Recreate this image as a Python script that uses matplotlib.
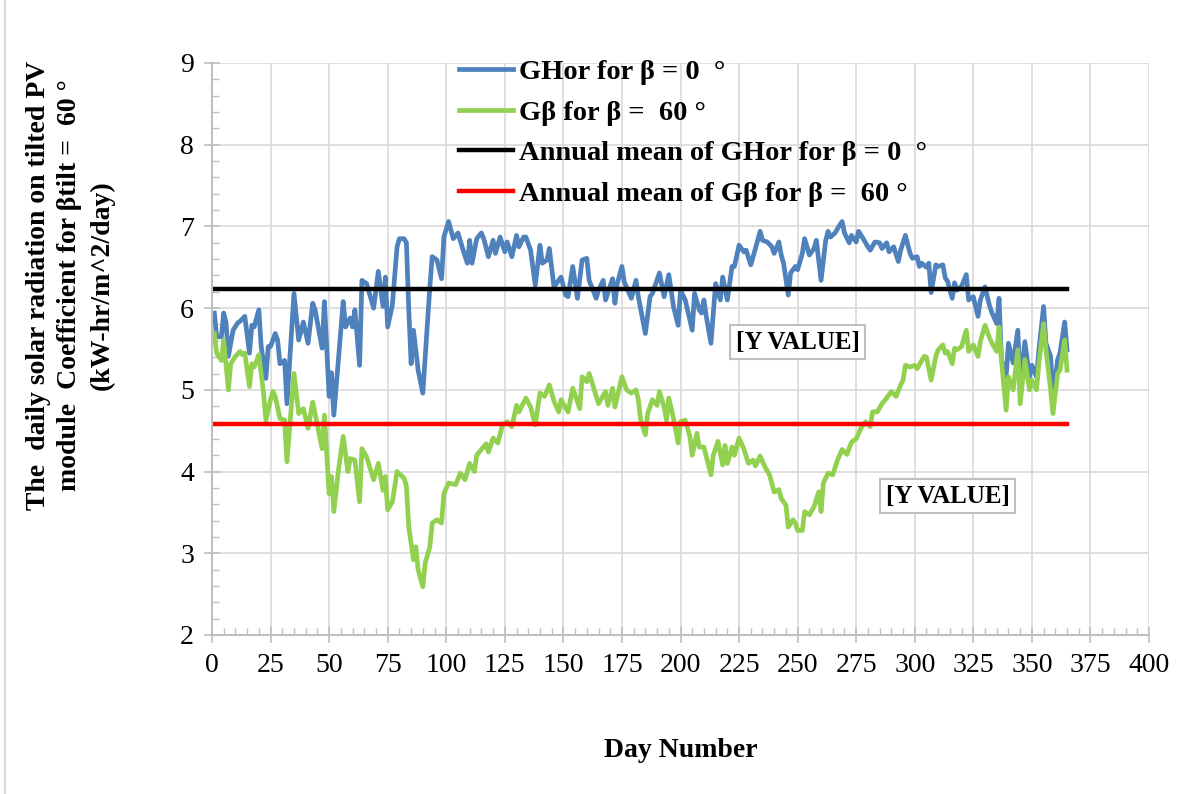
import numpy as np
import matplotlib
matplotlib.use("Agg")
import matplotlib.pyplot as plt
from matplotlib.ticker import MultipleLocator

# values
days_hor = [1, 2, 4, 5, 6, 7, 9, 11, 12, 14, 16, 17, 18, 20, 21, 23, 24, 25, 27, 28,
            29, 31, 32, 35, 37, 39, 41, 43, 44, 47, 48, 50, 51, 52, 56, 57, 59, 60, 61, 63,
            64, 66, 69, 71, 73, 74, 75, 77, 79, 80, 82, 83, 84, 85, 86, 88, 90, 93, 94, 96,
            98, 99, 101, 103, 105, 107, 109, 110, 111, 113, 115, 116, 118, 120, 121, 123, 125, 126, 128, 130,
            131, 133, 134, 136, 138, 140, 141, 143, 144, 146, 149, 151, 152, 154, 156, 158, 160, 161, 164, 165,
            167, 168, 171, 172, 173, 175, 176, 179, 181, 182, 185, 187, 188, 191, 193, 195, 197, 199, 200, 202,
            203, 205, 206, 208, 209, 210, 211, 213, 215, 217, 218, 220, 222, 223, 225, 227, 228, 230, 232, 234,
            235, 237, 239, 240, 242, 243, 244, 246, 247, 249, 250, 252, 253, 255, 257, 258, 260, 262, 263, 264,
            266, 268, 269, 270, 272, 273, 275, 276, 278, 280, 281, 283, 285, 286, 288, 289, 291, 293, 294, 296,
            298, 299, 301, 302, 303, 305, 306, 307, 309, 310, 312, 313, 314, 316, 317, 318, 320, 322, 323, 325,
            327, 328, 330, 332, 333, 335, 336, 337, 339, 340, 342, 344, 345, 347, 349, 350, 352, 353, 355, 356,
            358, 359, 361, 362, 364, 365]
g_hor = [5.94, 5.65, 5.65, 5.94, 5.82, 5.41, 5.73, 5.82, 5.84, 5.90, 5.45, 5.79, 5.77, 5.98, 5.53, 5.14, 5.53, 5.53, 5.69, 5.61,
         5.32, 5.36, 4.83, 6.18, 5.61, 5.83, 5.57, 6.06, 5.98, 5.51, 6.08, 4.92, 5.21, 4.69, 6.08, 5.77, 5.88, 5.77, 5.98, 5.30,
         6.34, 6.30, 6.00, 6.45, 6.02, 6.38, 5.77, 6.04, 6.75, 6.85, 6.85, 6.80, 5.98, 5.32, 5.73, 5.24, 4.96, 6.26, 6.63, 6.59,
         6.36, 6.87, 7.06, 6.85, 6.92, 6.73, 6.55, 6.83, 6.55, 6.85, 6.92, 6.85, 6.63, 6.83, 6.67, 6.87, 6.69, 6.81, 6.63, 6.89,
         6.75, 6.87, 6.87, 6.71, 6.28, 6.77, 6.55, 6.59, 6.73, 6.26, 6.38, 6.16, 6.14, 6.51, 6.12, 6.59, 6.61, 6.34, 6.12, 6.22,
         6.34, 6.10, 6.36, 6.06, 6.30, 6.51, 6.32, 6.12, 6.34, 6.14, 5.69, 6.14, 6.18, 6.43, 6.14, 6.41, 6.02, 5.79, 6.22, 6.10,
         5.98, 5.73, 6.18, 5.98, 5.94, 6.10, 5.90, 5.57, 6.30, 6.10, 6.38, 6.10, 6.51, 6.51, 6.77, 6.69, 6.71, 6.53, 6.73, 6.94,
         6.83, 6.81, 6.75, 6.67, 6.81, 6.65, 6.55, 6.16, 6.43, 6.51, 6.47, 6.67, 6.85, 6.65, 6.73, 6.83, 6.34, 6.83, 6.94, 6.87,
         6.92, 7.02, 7.06, 6.92, 6.80, 6.89, 6.81, 6.94, 6.85, 6.75, 6.71, 6.81, 6.80, 6.73, 6.80, 6.69, 6.75, 6.57, 6.71, 6.89,
         6.67, 6.61, 6.63, 6.51, 6.55, 6.50, 6.55, 6.19, 6.53, 6.51, 6.53, 6.37, 6.33, 6.12, 6.31, 6.22, 6.27, 6.41, 6.10, 6.14,
         5.90, 6.10, 6.26, 6.02, 5.94, 5.81, 6.12, 5.37, 5.16, 5.57, 5.33, 5.73, 5.04, 5.59, 5.16, 5.30, 5.16, 5.49, 6.02, 5.57,
         5.41, 4.92, 5.37, 5.45, 5.83, 5.49]

days_tilt = [1, 2, 4, 5, 7, 8, 10, 12, 13, 14, 16, 17, 18, 20, 22, 23, 25, 26, 27, 29,
             31, 32, 35, 37, 39, 41, 43, 44, 47, 48, 50, 51, 52, 54, 56, 58, 59, 61, 63, 64,
             66, 69, 71, 73, 74, 75, 77, 79, 82, 83, 84, 86, 87, 88, 90, 91, 93, 94, 96, 98,
             99, 101, 104, 106, 108, 110, 112, 113, 115, 117, 118, 120, 122, 124, 126, 128, 130, 131, 134, 136,
             138, 140, 142, 144, 146, 148, 149, 152, 154, 157, 158, 160, 161, 163, 165, 168, 169, 171, 172, 174,
             175, 177, 179, 181, 182, 183, 185, 186, 188, 190, 191, 193, 194, 195, 197, 199, 200, 202, 204, 205,
             207, 208, 210, 213, 214, 216, 218, 219, 220, 222, 223, 225, 227, 229, 231, 232, 234, 236, 238, 240,
             242, 243, 245, 246, 248, 249, 250, 252, 253, 255, 257, 259, 260, 261, 263, 265, 267, 269, 271, 273,
             275, 277, 279, 281, 282, 284, 286, 288, 290, 292, 294, 295, 296, 298, 300, 301, 303, 304, 305, 307,
             309, 310, 312, 313, 314, 316, 317, 318, 320, 322, 323, 325, 327, 328, 330, 332, 333, 335, 336, 337,
             339, 340, 342, 344, 345, 347, 349, 350, 352, 353, 355, 356, 358, 359, 361, 362, 364, 365]
g_tilt = [5.69, 5.45, 5.36, 5.61, 5.00, 5.32, 5.41, 5.47, 5.43, 5.45, 5.04, 5.32, 5.28, 5.43, 4.96, 4.63, 4.88, 4.98, 4.92, 4.65,
          4.63, 4.12, 5.20, 4.71, 4.77, 4.53, 4.85, 4.71, 4.28, 4.69, 3.73, 3.94, 3.51, 4.02, 4.43, 4.00, 4.16, 4.14, 3.63, 4.28,
          4.18, 3.90, 4.10, 3.77, 3.94, 3.53, 3.63, 4.00, 3.92, 3.82, 3.32, 2.92, 3.08, 2.80, 2.59, 2.88, 3.08, 3.37, 3.41, 3.37,
          3.73, 3.86, 3.84, 3.98, 3.90, 4.10, 4.00, 4.20, 4.27, 4.34, 4.24, 4.41, 4.35, 4.57, 4.61, 4.55, 4.81, 4.73, 4.90, 4.79,
          4.57, 4.96, 4.92, 5.06, 4.86, 4.73, 4.88, 4.73, 5.02, 4.77, 5.16, 5.10, 5.20, 5.02, 4.83, 4.98, 4.81, 5.02, 4.79, 5.04,
          5.16, 5.00, 4.96, 5.00, 4.88, 4.63, 4.45, 4.71, 4.88, 4.81, 4.98, 4.79, 4.63, 4.90, 4.65, 4.35, 4.61, 4.63, 4.43, 4.20,
          4.47, 4.30, 4.30, 3.96, 4.20, 4.37, 4.08, 4.32, 4.10, 4.30, 4.20, 4.41, 4.28, 4.10, 4.14, 4.07, 4.19, 4.06, 3.96, 3.75,
          3.78, 3.67, 3.59, 3.32, 3.41, 3.37, 3.28, 3.28, 3.51, 3.47, 3.57, 3.75, 3.51, 3.86, 3.98, 3.96, 4.14, 4.27, 4.21, 4.36,
          4.40, 4.53, 4.61, 4.55, 4.73, 4.73, 4.83, 4.90, 4.98, 4.92, 5.06, 5.12, 5.30, 5.28, 5.30, 5.26, 5.36, 5.41, 5.40, 5.12,
          5.41, 5.49, 5.55, 5.45, 5.47, 5.32, 5.51, 5.49, 5.53, 5.73, 5.47, 5.55, 5.41, 5.59, 5.79, 5.63, 5.57, 5.47, 5.77, 5.37,
          4.75, 5.16, 5.00, 5.49, 4.83, 5.37, 5.00, 5.12, 5.00, 5.33, 5.81, 5.49, 5.00, 4.71, 5.20, 5.24, 5.61, 5.24]

mean_hor = 6.23
mean_tilt = 4.58
mean_days = [1, 365]

labels = ["GHor for β = 0  °", "Gβ for β =  60 °",
          "Annual mean of GHor for β = 0  °", "Annual mean of Gβ for β =  60 °"]

serif = ["Liberation Serif", "DejaVu Serif"]
plt.rcParams["font.family"] = serif

fig = plt.figure(figsize=(12.03, 7.94), dpi=100)
ax = fig.add_axes([212 / 1203, 1 - 635 / 794, 937 / 1203, 572 / 794])

ax.plot(days_hor, g_hor, color="#4f81bd", lw=3.4, label=labels[0])
ax.plot(days_tilt, g_tilt, color="#92d050", lw=3.4, label=labels[1])
ax.plot(mean_days, [mean_hor, mean_hor], color="black", lw=3.2, label=labels[2])
ax.plot(mean_days, [mean_tilt, mean_tilt], color="#ff0000", lw=3.2, label=labels[3])

ax.set_xlim(0, 400)
ax.set_ylim(2, 9)
ax.xaxis.set_major_locator(MultipleLocator(25))
ax.xaxis.set_minor_locator(MultipleLocator(5))
ax.yaxis.set_major_locator(MultipleLocator(1))
ax.yaxis.set_minor_locator(MultipleLocator(0.2))
ax.grid(which="major", color="#d9d9d9", lw=1.2)
ax.set_axisbelow(True)
for s in ["top", "right"]:
    ax.spines[s].set_visible(False)
for s in ["left", "bottom"]:
    ax.spines[s].set_color("#bfbfbf")
    ax.spines[s].set_linewidth(1.5)
ax.tick_params(which="major", direction="inout", length=12, width=1.2, color="#bfbfbf",
               labelsize=20, pad=7)
ax.tick_params(which="minor", direction="in", length=5, width=1.0, color="#bfbfbf")

ax.set_xlabel("Day Number", fontsize=20, fontweight="bold", labelpad=43)
fig.text(70 / 1203, 1 - 285 / 794,
         "The  daily solar radiation on tilted PV\nmodule  Coefficient for βtilt =  60 °\n(kW-hr/m^2/day)",
         rotation=90, ha="center", va="center", fontsize=20, fontweight="bold",
         linespacing=1.35)

box = dict(boxstyle="square,pad=0.22", facecolor="white", edgecolor="#bfbfbf", lw=1.5)
ax.text(250, 5.58, "[Y VALUE]", ha="center", va="center", fontsize=18, fontweight="bold", bbox=box)
ax.text(314, 3.70, "[Y VALUE]", ha="center", va="center", fontsize=18, fontweight="bold", bbox=box)

ax.legend(loc="upper left", bbox_to_anchor=(459 / 1203, 1 - 59 / 794),
          bbox_transform=fig.transFigure, frameon=False, prop={"size": 20.5, "weight": "bold"},
          handlelength=1.9, handletextpad=0.2, labelspacing=0.52, borderpad=0, borderaxespad=0)

fig.add_artist(plt.Line2D([5 / 1203, 5 / 1203], [0, 1], color="#d9d9d9", lw=1.5))

fig.savefig("out.png", dpi=100)
